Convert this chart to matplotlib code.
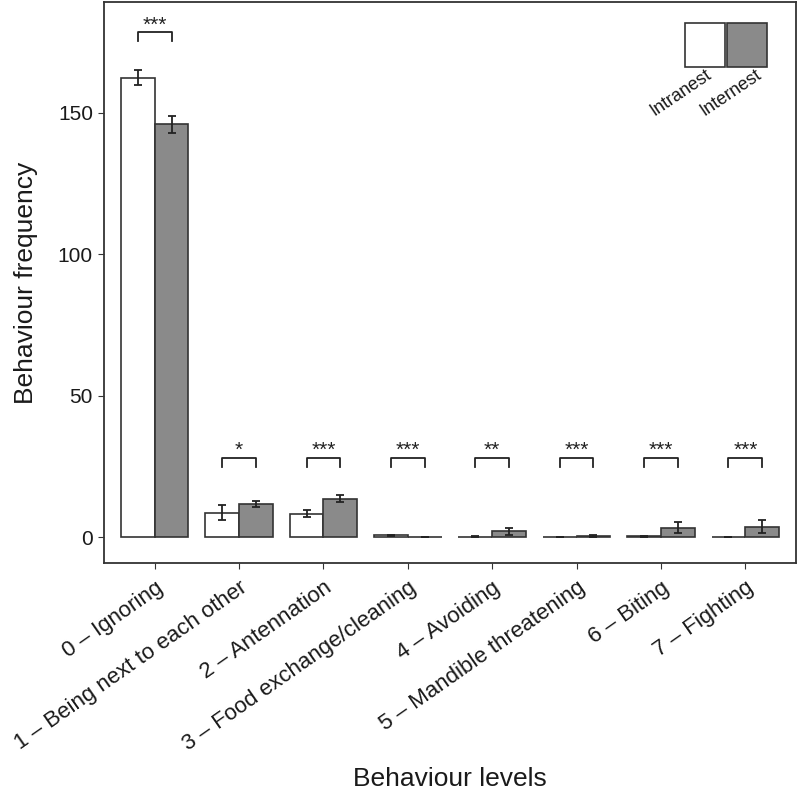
import matplotlib
matplotlib.use("Agg")
import matplotlib.pyplot as plt
from matplotlib.patches import Rectangle
import numpy as np

plt.rcParams["font.family"] = ["Liberation Sans", "DejaVu Sans"]

categories = ["0 – Ignoring", "1 – Being next to each other", "2 – Antennation",
              "3 – Food exchange/cleaning", "4 – Avoiding", "5 – Mandible threatening",
              "6 – Biting", "7 – Fighting"]
intranest = [162.5, 8.6, 8.3, 0.6, 0.2, 0.1, 0.3, 0.0]
intranest_err = [2.8, 2.7, 1.3, 0.3, 0.2, 0.1, 0.2, 0.0]
internest = [146.0, 11.7, 13.6, 0.1, 2.1, 0.4, 3.4, 3.7]
internest_err = [3.0, 1.0, 1.2, 0.1, 1.2, 0.2, 1.9, 2.2]
signif = ["***", "*", "***", "***", "**", "***", "***", "***"]
bracket_top = [178.5, 28, 28, 28, 28, 28, 28, 28]

EDGE = "#333333"
GREY = "#8a8a8a"
TXT = "#1a1a1a"

fig = plt.figure(figsize=(8, 7.91), dpi=100)
ax = fig.add_axes([0.13, 0.288, 0.865, 0.7095])

x = np.arange(len(categories))
w = 0.4
ax.bar(x - w / 2, intranest, w, color="white", edgecolor=EDGE, linewidth=1.2)
ax.bar(x + w / 2, internest, w, color=GREY, edgecolor=EDGE, linewidth=1.2)
ax.errorbar(x - w / 2, intranest, yerr=intranest_err, fmt="none", ecolor="#222222",
            elinewidth=1.3, capsize=3, capthick=1.3)
ax.errorbar(x + w / 2, internest, yerr=internest_err, fmt="none", ecolor="#222222",
            elinewidth=1.3, capsize=3, capthick=1.3)

# significance brackets
for xi, s, top in zip(x, signif, bracket_top):
    ax.plot([xi - w / 2, xi - w / 2, xi + w / 2, xi + w / 2],
            [top - 3.2, top, top, top - 3.2], color="#222222", lw=1.3)
    ax.text(xi, top - 0.8, s, ha="center", va="bottom", fontsize=15, color="#222222")

ax.set_xlim(-0.6, 7.6)
ax.set_ylim(-9.2, 189.2)
ax.set_yticks([0, 50, 100, 150])
ax.set_xticks(x)
ax.set_xticklabels(categories, rotation=35, ha="right", rotation_mode="anchor")
ax.tick_params(axis="both", color="#333333", length=4, labelcolor=TXT)
ax.tick_params(axis="y", labelsize=15, pad=4)
ax.tick_params(axis="x", labelsize=16, pad=6)
ax.set_ylabel("Behaviour frequency", fontsize=19, color=TXT, labelpad=14)
fig.text(0.13 + 0.865 / 2, 0.006, "Behaviour levels", fontsize=19, color=TXT,
         ha="center", va="baseline")
for sp in ax.spines.values():
    sp.set_color("#333333")
    sp.set_linewidth(1.3)

# legend keys
for lx, tx, col, lab in [(0.84, 0.868, "white", "Intranest"), (0.9, 0.941, GREY, "Internest")]:
    ax.add_patch(Rectangle((lx, 0.885), 0.058, 0.077, transform=ax.transAxes,
                           facecolor=col, edgecolor=EDGE, lw=1.2, clip_on=False))
    ax.text(tx, 0.885, lab, transform=ax.transAxes, rotation=34,
            ha="right", va="top", rotation_mode="anchor", fontsize=13, color=TXT)

fig.savefig("out.png", dpi=100, facecolor="white")
